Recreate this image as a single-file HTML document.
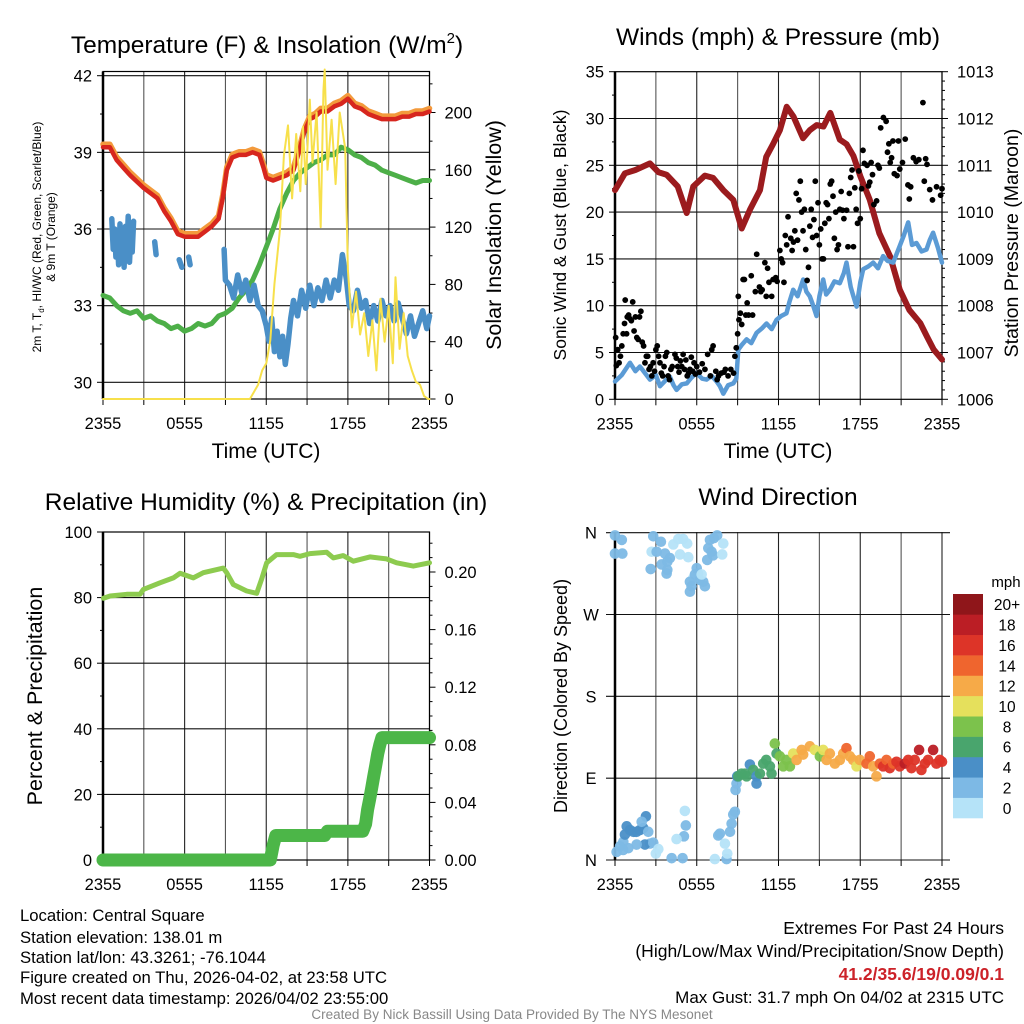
<!DOCTYPE html>
<html><head><meta charset="utf-8">
<style>
html,body{margin:0;padding:0;background:#fff;}
svg{display:block;font-family:"Liberation Sans",sans-serif;}
</style></head>
<body>
<svg id="chart" width="1024" height="1024" viewBox="0 0 1024 1024" xmlns="http://www.w3.org/2000/svg">
<rect x="0" y="0" width="1024" height="1024" fill="#fff"/>
<!-- titles -->
<text x="267" y="53" font-size="24.5" text-anchor="middle">Temperature (F) &amp; Insolation (W/m<tspan font-size="15" dy="-10">2</tspan><tspan dy="10">)</tspan></text>
<text x="778" y="45" font-size="24.5" text-anchor="middle">Winds (mph) &amp; Pressure (mb)</text>
<text x="266" y="510" font-size="24.5" text-anchor="middle">Relative Humidity (%) &amp; Precipitation (in)</text>
<text x="778" y="505" font-size="24.5" text-anchor="middle">Wind Direction</text>
<!-- axis titles -->
<text x="266" y="458" font-size="21" text-anchor="middle">Time (UTC)</text>
<text x="778" y="458" font-size="21" text-anchor="middle">Time (UTC)</text>
<text transform="translate(41,237) rotate(-90)" font-size="12" text-anchor="middle">2m T, T<tspan font-size="8" dy="3">d</tspan><tspan dy="-3">, HI/WC (Red, Green, Scarlet/Blue)</tspan></text>
<text transform="translate(55,237) rotate(-90)" font-size="12" text-anchor="middle">&amp; 9m T (Orange)</text>
<text transform="translate(501,235) rotate(-90)" font-size="21.5" text-anchor="middle">Solar Insolation (Yellow)</text>
<text transform="translate(566,235) rotate(-90)" font-size="17.5" text-anchor="middle">Sonic Wind &amp; Gust (Blue, Black)</text>
<text transform="translate(1018,243) rotate(-90)" font-size="19.5" text-anchor="middle">Station Pressure (Maroon)</text>
<text transform="translate(42,696) rotate(-90)" font-size="21.5" text-anchor="middle">Percent &amp; Precipitation</text>
<text transform="translate(567,696) rotate(-90)" font-size="18" text-anchor="middle">Direction (Colored By Speed)</text>
<!-- footer -->
<g font-size="16.7">
<text x="20" y="921">Location: Central Square</text>
<text x="20" y="943">Station elevation: 138.01 m</text>
<text x="20" y="963">Station lat/lon: 43.3261; -76.1044</text>
<text x="20" y="983">Figure created on Thu, 2026-04-02, at 23:58 UTC</text>
<text x="20" y="1004">Most recent data timestamp: 2026/04/02 23:55:00</text>
</g>
<g font-size="17.5" text-anchor="end">
<text x="1004" y="934">Extremes For Past 24 Hours</text>
<text x="1004" y="957">(High/Low/Max Wind/Precipitation/Snow Depth)</text>
<text x="1004" y="980" fill="#cc2229" font-weight="bold">41.2/35.6/19/0.09/0.1</text>
<text x="1004" y="1003" font-size="17">Max Gust: 31.7 mph On 04/02 at 2315 UTC</text>
</g>
<text x="512" y="1019" font-size="13.5" fill="#888" text-anchor="middle">Created By Nick Bassill Using Data Provided By The NYS Mesonet</text>
<text x="1006" y="587" font-size="15" text-anchor="middle">mph</text>
</svg>
<script>
// ---------- data ----------
const xTickLabels = ["2355","0555","1155","1755","2355"];
const tempTime = [0,0.5,1,1.5,2,3,4,4.5,5,5.5,6,6.5,7,7.5,8,8.5,8.8,9.1,9.5,10,10.5,11,11.5,11.8,12,12.5,13,13.5,14,14.4,14.8,15.2,15.6,16,16.5,17,17.5,18,18.5,19,19.5,20,20.5,21,21.5,22,22.5,23,23.5,24];
const tempValues = [39.2,39.2,38.7,38.4,38.1,37.6,37.2,36.7,36.3,35.8,35.7,35.7,35.7,35.9,36.1,36.4,37.2,38.3,38.8,38.9,38.9,39.0,38.9,38.4,38.0,37.9,38.0,38.1,38.3,39.0,39.8,40.3,40.4,40.6,40.6,40.8,40.9,41.1,40.8,40.7,40.5,40.4,40.3,40.3,40.3,40.4,40.4,40.5,40.5,40.6];
const dewTime = [0,0.5,1,1.5,2,2.5,3,3.5,4,4.5,5,5.5,6,6.5,7,7.5,8,8.5,9,9.5,10,10.5,11,11.5,12,12.5,13,13.5,14,14.5,15,15.5,16,16.5,17,17.5,18,18.5,19,19.5,20,20.5,21,21.5,22,22.5,23,23.5,24];
const dewValues = [33.4,33.3,33.0,32.8,32.7,32.8,32.5,32.6,32.4,32.3,32.1,32.2,32.0,32.1,32.3,32.2,32.3,32.6,32.7,32.9,33.3,33.6,34.0,34.6,35.3,36.0,36.8,37.4,37.9,38.2,38.4,38.6,38.7,38.9,38.9,39.2,39.1,38.9,38.8,38.6,38.5,38.3,38.2,38.1,38.0,37.9,37.8,37.9,37.9];
const wcTime = [0.65,0.75,0.85,0.95,1.05,1.15,1.25,1.35,1.45,1.55,1.65,1.75,1.85,1.95,2.05,2.15,2.25,2.3,3.8,3.9,3.95,5.6,5.8,5.85,6.3,6.4,6.45,8.9,9.0,9.3,9.6,9.9,10.2,10.5,10.8,11.1,11.4,11.7,12.0,12.2,12.4,12.6,12.8,13.0,13.2,13.4,13.6,13.8,14.0,14.3,14.6,14.9,15.2,15.5,15.8,16.1,16.4,16.7,17.0,17.3,17.6,17.9,18.1,18.4,18.7,19.0,19.3,19.6,19.9,20.2,20.5,20.8,21.1,21.4,21.7,22.0,22.3,22.6,22.9,23.2,23.5,23.8,24];
const wcValues = [36.4,35.2,36.0,34.9,35.8,34.6,36.2,35.0,35.7,34.5,36.1,35.0,36.5,34.7,35.9,35.1,36.3,null,35.5,35.0,null,34.8,34.5,null,34.9,34.6,null,35.2,34.0,33.8,33.3,34.2,33.5,34.0,33.2,33.8,33.0,32.8,32.2,31.6,32.5,31.2,32.0,31.0,31.8,30.7,31.5,32.5,33.2,32.6,33.6,32.9,33.8,33.0,33.7,33.2,34.0,33.3,34.0,33.6,35.0,34.0,33.0,32.8,33.6,32.9,33.2,32.3,33.0,32.4,33.2,32.6,33.0,32.4,33.1,32.5,31.9,32.6,31.8,32.3,32.8,32.1,32.6];
const solarTime = [0,10.8,11.4,11.7,12.0,12.3,12.6,13.0,13.3,13.6,13.9,14.2,14.5,14.7,14.9,15.2,15.4,15.7,16.0,16.2,16.3,16.5,16.8,17.1,17.4,17.8,18.0,18.3,18.6,18.9,19.2,19.5,19.8,20.1,20.4,20.7,21.0,21.3,21.5,21.8,22.1,22.4,22.7,23.0,23.3,23.6,23.9,24];
const solarValues = [0,0,10,20,25,41,80,118,170,191,140,185,145,190,150,209,165,200,120,215,230,160,195,150,200,175,90,50,75,45,60,30,55,20,70,40,65,25,85,35,60,30,20,12,10,2,0,0];
const presTime = [0,0.73,1.5,2.57,3.2,3.79,4.6,5.26,5.75,6.6,7.2,7.95,8.68,9.3,9.9,10.64,11.1,11.6,12.1,12.6,13.1,13.8,14.3,14.8,15.3,15.8,16.5,17.0,17.5,18.0,18.7,19.4,20.2,20.9,21.6,22.4,22.9,23.4,24];
const presValues = [1010.47,1010.83,1010.9,1011.04,1010.85,1010.8,1010.55,1009.98,1010.55,1010.78,1010.73,1010.47,1010.26,1009.65,1010.05,1010.47,1011.18,1011.45,1011.75,1012.25,1012.04,1011.58,1011.75,1011.86,1011.83,1012.12,1011.55,1011.45,1011.2,1010.77,1010.26,1009.55,1009.05,1008.34,1007.91,1007.63,1007.34,1007.06,1006.85];
const sonicTime = [0,0.5,1.1,1.5,1.83,2.2,2.57,3.0,3.3,3.7,4.03,4.3,4.52,4.9,5.26,5.6,5.99,6.4,6.72,7.1,7.46,7.7,7.95,8.3,8.68,8.9,9.05,9.3,9.66,10.0,10.39,10.8,11.12,11.5,11.86,12.2,12.59,12.8,13.08,13.4,13.81,14.05,14.3,14.55,14.79,15.0,15.28,15.5,15.77,16.1,16.5,16.8,16.99,17.3,17.5,17.73,18.0,18.22,18.6,18.95,19.3,19.68,20.0,20.42,20.9,21.2,21.52,21.8,22.13,22.5,22.86,23.1,23.35,23.7,24];
const sonicValues = [1.9,2.6,3.9,3.0,3.5,2.8,2.1,2.6,1.4,2.0,2.4,1.5,1.0,1.6,1.7,2.3,2.8,2.2,2.1,2.5,1.9,1.4,0.6,1.5,1.7,2.2,5.3,5.8,6.4,6.0,7.1,7.6,8.1,7.5,8.5,8.9,9.2,10.4,11.7,11.0,12.8,11.5,11.0,10.0,8.9,11.0,12.8,11.2,11.7,12.6,12.4,13.5,14.6,12.0,11.0,9.9,12.5,13.9,14.2,14.6,14.0,15.3,14.8,14.6,16.4,17.5,18.9,16.5,16.7,15.8,16.0,17.0,17.8,16.2,14.6];
const gustObs = [[0.05,6.6],[0.1,3.6],[0.2,5.3],[0.3,3.9],[0.4,4.6],[0.5,5.7],[0.6,7.0],[0.7,8.1],[0.75,10.6],[0.85,7.0],[0.9,8.8],[1.0,9.0],[1.1,8.6],[1.2,8.4],[1.3,10.4],[1.4,7.3],[1.5,8.8],[1.6,6.6],[1.7,6.4],[1.8,8.8],[1.9,9.4],[2.0,6.1],[2.1,5.7],[2.2,3.9],[2.3,4.6],[2.4,4.6],[2.5,3.2],[2.6,3.5],[2.7,2.5],[2.8,3.9],[2.9,3.0],[3.0,5.3],[3.1,5.7],[3.2,4.6],[3.3,3.9],[3.4,2.8],[3.5,2.5],[3.6,3.5],[3.7,4.6],[3.8,5.0],[3.9,2.5],[4.0,2.1],[4.1,3.2],[4.2,3.5],[4.4,4.8],[4.5,4.4],[4.6,3.5],[4.7,2.9],[4.8,4.1],[4.9,3.5],[5.0,4.8],[5.1,3.2],[5.2,4.2],[5.3,2.5],[5.4,2.8],[5.5,3.2],[5.6,4.5],[5.7,3.0],[5.8,3.9],[5.9,2.7],[6.0,3.5],[6.2,2.9],[6.4,3.8],[6.6,3.2],[6.8,4.8],[7.0,2.5],[7.1,5.3],[7.2,5.7],[7.4,3.0],[7.5,2.1],[7.6,2.5],[7.8,2.8],[8.0,2.9],[8.1,3.2],[8.3,2.5],[8.5,3.2],[8.7,2.8],[8.8,4.6],[8.9,5.5],[9.0,7.0],[9.05,11.0],[9.1,8.5],[9.2,9.2],[9.3,8.0],[9.4,12.8],[9.5,12.8],[9.6,9.0],[9.7,10.3],[9.8,9.0],[10.0,13.2],[10.1,9.0],[10.3,11.5],[10.4,15.5],[10.6,12.0],[10.7,11.5],[10.8,11.7],[11.0,14.6],[11.1,11.0],[11.2,14.0],[11.3,12.5],[11.5,11.0],[11.6,12.8],[11.8,13.0],[11.9,12.6],[12.1,15.9],[12.2,15.0],[12.3,14.6],[12.4,12.5],[12.5,17.5],[12.6,16.5],[12.7,19.5],[12.9,17.2],[13.0,15.9],[13.1,16.8],[13.2,18.0],[13.3,22.0],[13.4,17.0],[13.5,21.3],[13.6,23.3],[13.7,20.0],[13.8,18.0],[13.9,20.3],[14.0,16.0],[14.1,12.7],[14.2,14.1],[14.3,18.5],[14.4,20.3],[14.5,17.3],[14.6,19.2],[14.7,23.3],[14.8,17.5],[14.9,21.0],[15.0,16.5],[15.1,18.2],[15.2,15.0],[15.3,15.0],[15.4,18.8],[15.5,21.0],[15.6,20.8],[15.7,19.3],[15.8,23.0],[15.9,23.3],[16.0,21.7],[16.1,17.2],[16.2,20.0],[16.3,16.0],[16.4,16.5],[16.5,20.3],[16.6,22.2],[16.7,20.2],[16.8,19.3],[17.0,20.2],[17.1,16.3],[17.2,22.0],[17.3,23.7],[17.4,24.5],[17.5,16.3],[17.6,22.6],[17.7,20.3],[17.8,18.8],[17.9,24.4],[18.0,19.3],[18.1,22.5],[18.2,26.6],[18.3,25.2],[18.5,25.0],[18.6,22.8],[18.7,23.2],[18.8,25.3],[18.9,24.0],[19.0,20.8],[19.2,21.2],[19.3,25.0],[19.4,24.7],[19.5,29.0],[19.7,30.1],[19.9,29.7],[20.0,26.4],[20.1,27.3],[20.2,25.3],[20.3,25.8],[20.4,27.6],[20.5,24.1],[20.7,23.9],[20.8,27.6],[20.9,24.6],[21.1,25.3],[21.3,27.8],[21.5,22.9],[21.6,21.4],[21.7,22.7],[21.9,25.8],[22.1,25.4],[22.3,25.6],[22.6,31.7],[22.7,23.3],[22.8,25.7],[22.9,25.1],[23.1,22.4],[23.3,21.3],[23.6,22.7],[23.9,21.8],[24,22.5]];
const rhTime = [0.03,0.52,1.74,2.72,2.97,4.19,5.17,5.66,6.64,7.37,8.84,9.09,9.58,10.56,11.3,11.66,12.03,12.76,13.99,14.48,15.21,16.44,16.93,17.66,18.4,19.62,20.85,21.58,22.81,24];
const rhValues = [79.8,80.5,81,81,82.5,84.5,86,87.4,86,87.6,89,87.6,84,82,81.3,85.6,90.6,93.1,93.1,92.6,93.4,93.8,92.1,92.8,91.1,92.4,91.8,90.6,89.6,90.6];
const precipTime = [0,12.3,12.5,12.7,16.3,16.5,19.1,19.3,19.45,19.6,19.75,19.9,20.05,20.2,20.35,20.5,24];
const precipValues = [0,0,0.01,0.017,0.017,0.02,0.02,0.025,0.035,0.042,0.05,0.058,0.066,0.074,0.08,0.085,0.085];
const dirTime = [0,0.5,0,0.54,2.81,3.37,2.69,3.06,3.67,4.03,3.84,3.42,3.84,3.79,2.62,4.28,4.65,5.0,5.3,4.77,5.38,6.0,6.1,5.75,5.5,5.62,5.5,6.48,6.6,6.23,5.87,6.36,6.97,7.26,7.5,6.85,7.09,6.77,7.2,7.95,7.87,0.12,0.37,0.61,0.73,0.86,1.1,1.34,1.59,1.83,2.08,2.27,1.96,2.44,2.57,2.2,1.59,0.98,0.6,2.81,3.0,3.18,4.16,4.96,5.13,5.2,5.06,4.52,7.33,8.19,8.24,7.7,7.58,8.07,8.44,8.56,8.68,8.8,8.85,8.92,8.97,9.05,9.29,9.54,9.66,9.9,10.15,10.39,10.39,10.64,10.88,11.1,11.37,11.49,11.73,11.86,12.1,12.35,12.59,12.84,13.08,13.33,13.7,13.81,14.3,14.67,15.04,15.28,15.53,15.77,16.14,16.5,16.75,16.99,17.24,17.48,17.73,17.97,18.46,18.7,18.95,19.19,19.44,19.68,19.93,20.17,20.42,20.66,20.9,21.27,21.52,21.76,22.0,22.32,22.49,22.74,22.98,23.35,23.59,23.84,24];
const dirValues = [357,352,337,337,356,350,339,339,337,332,328,325,319,315,320,347,353,353,348,336,333,321,315,310,306,301,295,306,301,308,314,314,352,354,357,343,339,330,335,348,336,9,15,20,28,37,33,31,31,33,35,48,42,31,18,17,17,13,11,19,7,12,2,2,54,38,26,23,1,1,7,29,27,18,31,40,50,53,77,84,92,92,95,95,92,105,99,92,84,95,106,110,103,95,128,117,114,103,110,103,117,110,121,116,125,121,114,121,110,117,106,110,117,123,114,110,103,110,106,114,103,92,106,103,110,101,106,108,103,106,110,101,110,121,99,106,110,121,106,110,108];
const dirSpeed = [2,2,2,2,2,2,1,2,2,2,2,2,2,2,2,0,0,0,0,0,0,2,2,0,2,2,2,2,2,2,2,0,2,2,2,2,2,2,2,0,0,3,2,3,4,4,4,4,4,4,4,4,2,2,2,4,2,2,3,2,0,0,2,2,0,2,2,0,0,2,0,2,2,0,2,2,2,2,3,3,5,6,6,6,7,4,7,5,4,6,6,7,7,7,8,7,9,8,9,8,11,12,13,13,12,11,9,11,13,12,12,13,12,14,13,13,10,12,14,14,12,12,15,16,15,16,15,17,16,18,17,16,17,19,16,17,16,18,17,16,17];
const cbarLabels = ["0","2","4","6","8","10","12","14","16","18","20+"];
const cbarColors = ["#b5e3f8","#7db9e5","#4a8fc7","#49a56d","#7cc24c","#e5e05c","#f6aa48","#ef652e","#dd3428","#bb1e25","#8f161a"];

// ---------- helpers ----------
const NS = 'http://www.w3.org/2000/svg';
const svg = document.getElementById('chart');
const TFS = 16.5;
function mk(tag, attrs, parent){ const e=document.createElementNS(NS,tag); for(const k in attrs) e.setAttribute(k,attrs[k]); (parent||svg).appendChild(e); return e; }
function pathD(ts, vs, fx, fy){ let d='', pen=false; for(let i=0;i<ts.length;i++){ const v=vs[i]; if(v===null||v===undefined){pen=false;continue;} d+=(pen?'L':'M')+fx(ts[i]).toFixed(1)+','+fy(v).toFixed(1); pen=true; } return d; }

// axis functions
const X1 = h => 103 + h*(326.5/24);
const X2 = h => 615 + h*(327/24);
const TL = v => 382.3 - (v-30)*25.55;
const TR = v => 399 - v*1.4325;
const WL = v => 399.3 - v*9.36;
const PR = p => 399.3 - (p-1006)*46.8;
const RH = v => 860 - v*3.28;
const PC = p => 860 - p*1440;
const DY = d => 860 - d*0.9093;

function vgrid(X, y0, y1, name){
  const g = mk('g',{});
  
  
  for(let h=0; h<=24; h+=3){
    const l = mk('line',{x1:X(h),x2:X(h),y1:y0,y2:y1,stroke:(h%6===0?'#222':'#555'),'stroke-width':1.1},g);
    
    
    const t = mk('line',{x1:X(h),x2:X(h),y1:y1,y2:y1+6,stroke:'#000','stroke-width':1},g);
    
    
  }
  for(let i=0;i<xTickLabels.length;i++){
    const tx = mk('text',{x:X(i*6),y:y1+30,'font-size':TFS,'text-anchor':'middle'},g);
    tx.textContent = xTickLabels[i];
    
    
  }
}
function hline(x0,x1,y,name,parent){
  const l = mk('line',{x1:x0,x2:x1,y1:y,y2:y,stroke:'#111','stroke-width':1.1},parent);
  
  
}
function yTicks(vals, fy, xEdge, dir, len, labels, name){
  const g = mk('g',{});
  
  
  vals.forEach((v,i)=>{
    const l = mk('line',{x1:xEdge,x2:xEdge+dir*len,y1:fy(v),y2:fy(v),stroke:'#000','stroke-width':1},g);
    
    
    if(labels){
      const t = mk('text',{x:xEdge+dir*(len+(dir<0?5:9)),y:fy(v)+6,'font-size':TFS,'text-anchor':dir<0?'end':'start'},g);
      t.textContent = labels[i];
      
      
    }
  });
}
function frame(x0,y0,x1,y1,name){
  const r = mk('rect',{x:x0,y:y0,width:x1-x0,height:y1-y0,fill:'none',stroke:'#000','stroke-width':1.2});
  
  
  const l = mk('line',{x1:x0,x2:x0,y1:y0,y2:y1,stroke:'#000','stroke-width':2.5});
  
  
}
function series(d, color, w, name){
  const p = mk('path',{d:d,fill:'none',stroke:color,'stroke-width':w,'stroke-linejoin':'round','stroke-linecap':'round'});
  
  
  return p;
}

// ---------- panel 1: temperature ----------
vgrid(X1, 71.5, 399, 'temp-x-axis');
[30,33,36,39,42].forEach(v=>hline(103,429.5,TL(v),'temp-gridline'));
frame(103,71.5,429.5,399,'temp-plot-frame');
yTicks([30,33,36,39,42],TL,103,-1,6,["30","33","36","39","42"],'temp-left-axis');
yTicks([31.5,34.5,37.5,40.5],TL,103,-1,3,null,'temp-left-minor');
yTicks([0,40,80,120,160,200],TR,429.5,1,6,["0","40","80","120","160","200"],'insolation-right-axis');
yTicks([20,60,100,140,180,220],TR,429.5,1,3,null,'insolation-right-minor');
series(pathD(dewTime,dewValues,X1,TL),'#4daf48',5,'dewpoint-line');
series(pathD(wcTime,wcValues,X1,TL),'#4a8fc7',5.5,'wind-chill-line');
series(pathD(tempTime,tempValues.map(v=>v+0.12),X1,TL),'#f39a3c',5.5,'temp-9m-line');
series(pathD(tempTime,tempValues,X1,TL),'#d7261e',4.5,'temp-2m-line');
series(pathD(solarTime,solarValues,X1,TR),'#f7e04b',2,'insolation-line');

// ---------- panel 2: winds ----------
vgrid(X2, 71.7, 399.3, 'wind-x-axis');
[5,10,15,20,25,30].forEach(v=>hline(615,942,WL(v),'wind-gridline'));
frame(615,71.7,942,399.3,'wind-plot-frame');
yTicks([0,5,10,15,20,25,30,35],WL,615,-1,6,["0","5","10","15","20","25","30","35"],'wind-left-axis');
yTicks([2.5,7.5,12.5,17.5,22.5,27.5,32.5],WL,615,-1,3,null,'wind-left-minor');
yTicks([1006,1007,1008,1009,1010,1011,1012,1013],PR,942,1,6,["1006","1007","1008","1009","1010","1011","1012","1013"],'pressure-right-axis');
const prMinor=[]; for(let k=1;k<35;k++){ if(k%5) prMinor.push(1006+k*0.2); }
yTicks(prMinor,PR,942,1,3,null,'pressure-right-minor');
series(pathD(presTime,presValues,X2,PR),'#9b1b1e',6,'pressure-line');
series(pathD(sonicTime,sonicValues,X2,WL),'#5b9bd5',4.5,'sonic-wind-line');
const gg = mk('g',{});


gustObs.forEach(o=>{
  const c = mk('circle',{cx:X2(o[0]),cy:WL(o[1]),r:2.9,fill:'#000'},gg);
  
  
});

// ---------- panel 3: humidity ----------
vgrid(X1, 532, 860, 'humidity-x-axis');
[20,40,60,80].forEach(v=>hline(103,429.5,RH(v),'humidity-gridline'));
frame(103,532,429.5,860,'humidity-plot-frame');
yTicks([0,20,40,60,80,100],RH,103,-1,6,["0","20","40","60","80","100"],'humidity-left-axis');
yTicks([10,30,50,70,90],RH,103,-1,3,null,'humidity-left-minor');
yTicks([0,0.04,0.08,0.12,0.16,0.2],PC,429.5,1,6,["0.00","0.04","0.08","0.12","0.16","0.20"],'precip-right-axis');
const pcMinor=[]; for(let k=1;k<23;k++){ if(k%4) pcMinor.push(k*0.01); }
yTicks(pcMinor,PC,429.5,1,3,null,'precip-right-minor');
series(pathD(rhTime,rhValues,X1,RH),'#8dcb4f',5,'humidity-line');
series(pathD(precipTime,precipValues,X1,PC),'#4cb648',13,'precip-line');

// ---------- panel 4: direction ----------
vgrid(X2, 532, 860, 'direction-x-axis');
const dirLbl=["N","E","S","W","N"];
[0,90,180,270,360].forEach((d,i)=>{
  hline(606,950,DY(d),'direction-gridline');
  const t = mk('text',{x:591,y:DY(d)+6,'font-size':TFS,'text-anchor':'middle'});
  t.textContent = dirLbl[i];
  
  
});
const la = mk('line',{x1:615,x2:615,y1:532,y2:860,stroke:'#000','stroke-width':2.5});


const dg = mk('g',{});


for(let i=0;i<dirTime.length;i++){
  const bin = Math.min(10, Math.floor(dirSpeed[i]/2));
  const c = mk('circle',{cx:X2(dirTime[i]),cy:DY(dirValues[i]),r:5.3,fill:cbarColors[bin],'fill-opacity':0.95},dg);
  
  
}
// colorbar
const cb = mk('g',{});


const cbH = (818-594)/cbarColors.length;
for(let i=0;i<cbarColors.length;i++){
  const y = 818 - (i+1)*cbH;
  const r = mk('rect',{x:953,y:y,width:30,height:cbH+0.3,fill:cbarColors[i]},cb);
  
  
  const t = mk('text',{x:1007,y:y+cbH/2+6,'font-size':15.5,'text-anchor':'middle'},cb);
  t.textContent = cbarLabels[i];
  
  
}
</script>
</body></html>
